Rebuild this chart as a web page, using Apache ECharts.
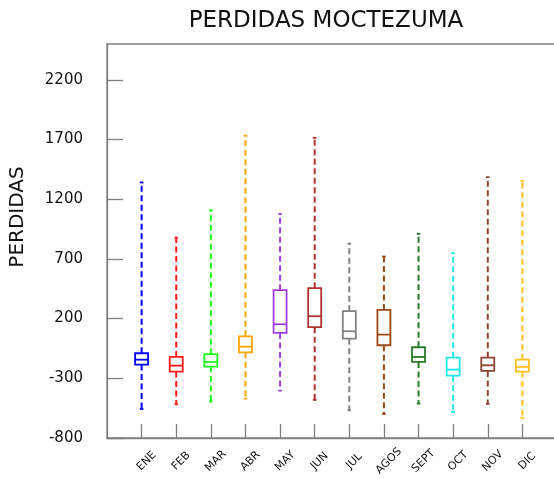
<!DOCTYPE html>
<html>
<head>
<meta charset="utf-8">
<script src="https://cdn.jsdelivr.net/npm/echarts@6/dist/echarts.min.js"></script>
<style>html,body{margin:0;padding:0;background:#fff}#c{width:554px;height:479px}</style>
</head>
<body>
<div id="c"></div>
<script>
// Month categories
const months = ['ENE','FEB','MAR','ABR','MAY','JUN','JUL','AGOS','SEPT','OCT','NOV','DIC'];
// Box statistics per month
const minVals    = [-557, -517, -495, -470, -403, -481, -568, -599, -512, -582, -515, -632];
const q1Vals     = [-185, -244, -202,  -82,   80,  128,   32,  -23, -163, -278, -238, -244];
const medianVals = [-144, -194, -163,  -35,  153,  220,   94,   66, -121, -227, -191, -205];
const q3Vals     = [ -90, -121,  -98,   52,  438,  455,  262,  273,  -40, -127, -127, -144];
const maxVals    = [1340,  878, 1108, 1733, 1077, 1714,  828,  720,  910,  748, 1385, 1354];
// Colours per month
const colors = ['#0000ff','#ff1a1a','#1aff1a','#ffa500','#a040e0','#b03030','#808080','#9a4a14','#2a7a2a','#1ee8e8','#8c4537','#ffc020'];
// Y tick labels
const yTicks = [-800, -300, 200, 700, 1200, 1700, 2200];

const cats = [''].concat(months, ['']);
const data = months.map((m, i) => ({
  value: [m, minVals[i], q1Vals[i], medianVals[i], q3Vals[i], maxVals[i]],
  itemStyle: { color: colors[i] }
}));

const FONT = 'DejaVu Sans';
const chart = echarts.init(document.getElementById('c'), null, { renderer: 'canvas' });
chart.setOption({
  animation: false,
  backgroundColor: '#fff',
  grid: { left: 107, top: 44, bottom: 41, right: -3, outerBoundsMode: 'none', containLabel: false,
          show: true, borderColor: '#808080', borderWidth: 1.3 },
  graphic: [
    { type: 'text', x: 326, y: 21, style: { text: 'PERDIDAS MOCTEZUMA', font: '23px "DejaVu Sans"', fill: '#111', align: 'center', verticalAlign: 'middle' } },
    { type: 'text', x: 18, y: 217, rotation: Math.PI / 2, style: { text: 'PERDIDAS', font: '20px "DejaVu Sans"', fill: '#111', align: 'center', verticalAlign: 'middle' } }
  ],
  xAxis: {
    type: 'category',
    data: cats,
    boundaryGap: false,
    axisLine: { onZero: false, lineStyle: { color: '#808080', width: 1.3 } },
    axisTick: { inside: true, length: 14, lineStyle: { color: '#808080', width: 1.3 }, interval: (i, v) => v !== '' },
    axisLabel: {
      interval: 0, rotate: 45, align: 'center', verticalAlign: 'middle', margin: 28,
      fontFamily: FONT, fontSize: 11, color: '#111',
      formatter: v => v === '' ? '' : '{sp|}' + v,
      rich: { sp: { width: 14 } }
    },
    splitLine: { show: false }
  },
  yAxis: {
    type: 'value', min: -800, max: 2500,
    axisLine: { show: true, onZero: false, lineStyle: { color: '#808080', width: 1.3 } },
    axisTick: { show: true, inside: true, length: 16, customValues: yTicks, lineStyle: { color: '#808080', width: 1.3 } },
    axisLabel: { customValues: yTicks, margin: 24, fontFamily: FONT, fontSize: 15, color: '#111', formatter: v => String(v) },
    splitLine: { show: false }
  },
  series: [{
    type: 'custom',
    data: data,
    encode: { x: 0, y: [1, 2, 3, 4, 5] },
    renderItem: function (params, api) {
      const x = api.value(0);
      const c = colors[params.dataIndex];
      const pMin = api.coord([x, api.value(1)]);
      const pQ1 = api.coord([x, api.value(2)]);
      const pMed = api.coord([x, api.value(3)]);
      const pQ3 = api.coord([x, api.value(4)]);
      const pMax = api.coord([x, api.value(5)]);
      const cx = pMin[0];
      const hw = 6.5, cap = 1.8;
      const dash = { stroke: c, lineWidth: 2, lineDash: [6, 3.5], fill: null };
      const solid = { stroke: c, lineWidth: 1.8, fill: null };
      return {
        type: 'group',
        children: [
          { type: 'line', shape: { x1: cx, y1: pQ1[1], x2: cx, y2: pMin[1] }, style: dash },
          { type: 'line', shape: { x1: cx, y1: pQ3[1], x2: cx, y2: pMax[1] }, style: dash },
          { type: 'line', shape: { x1: cx - cap, y1: pMin[1], x2: cx + cap, y2: pMin[1] }, style: solid },
          { type: 'line', shape: { x1: cx - cap, y1: pMax[1], x2: cx + cap, y2: pMax[1] }, style: solid },
          { type: 'rect', shape: { x: cx - hw, y: pQ3[1], width: 2 * hw, height: pQ1[1] - pQ3[1] }, style: solid },
          { type: 'line', shape: { x1: cx - hw, y1: pMed[1], x2: cx + hw, y2: pMed[1] }, style: solid }
        ]
      };
    }
  }]
});
</script>
</body>
</html>
